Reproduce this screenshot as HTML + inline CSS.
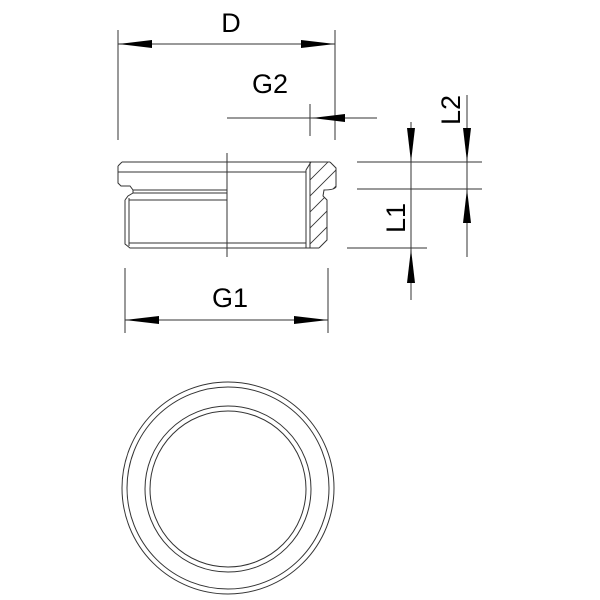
<!DOCTYPE html>
<html><head><style>html,body{margin:0;padding:0;background:#fff}svg{display:block}</style></head>
<body>
<svg width="600" height="600" viewBox="0 0 600 600" xmlns="http://www.w3.org/2000/svg">
<defs>
<clipPath id="hc"><path d="M310,162 L330,162 L336,168 L336,187 Q334,190 324,190 L323,196 L327,200 L327,240 L319,248 L310,248 Z"/></clipPath>
</defs>
<g fill="none" stroke="#333" stroke-width="1">
<path d="M122,162 L330,162"/>
<path d="M118,166 L122,162"/>
<path d="M118,166 L118,183 L121,186 L130,186 L133,190 L133,193 L128,196 L125,200"/>
<path d="M133,190 L227,190"/>
<path d="M133,193 L227,193"/>
<path d="M118,172 L227,172"/>
<path d="M125,200 L125,244 L130,248 L319,248"/>
<path d="M129,198 L129,246"/>
<path d="M129,200 L227,200"/>
<path d="M129,243 L227,243"/>
<path d="M227,172 L306,172"/>
<path d="M227,243 L306,243"/>
<path d="M227,153 L227,257"/>
<path d="M306,170 L311,162"/>
<path d="M306,170 L306,248"/>
<path d="M310,162 L310,248"/>
<path d="M330,162 L336,168 L336,187 Q334,190 324,190 L323,196 L327,200 L327,240 L319,248"/>
<g clip-path="url(#hc)" stroke-width="0.8">
<path d="M300,190 L350,140 M300,206 L350,156 M300,222 L350,172 M300,238 L350,188 M300,254 L350,204 M300,270 L350,220 M300,286 L350,236"/>
</g>
<circle cx="228" cy="488" r="106"/>
<circle cx="228" cy="488" r="101"/>
<circle cx="228" cy="489" r="83"/>
<circle cx="228" cy="489" r="78"/>
<path d="M118,30 L118,140 M335,30 L335,140 M118,44 L335,44"/>
<path d="M227,118 L377,118 M310,104 L310,136"/>
<path d="M125,268 L125,333 M328,268 L328,333 M125,320 L328,320"/>
<path d="M357,162 L482,162 M357,189 L482,189 M347,248 L427,248"/>
<path d="M411,122 L411,300 M467,95 L467,257"/>
</g>
<g fill="#000">
<path d="M118,44 L152,40 L152,48 Z"/>
<path d="M335,44 L301,40 L301,48 Z"/>
<path d="M312,118 L345,114 L345,122 Z"/>
<path d="M125,320 L159,316 L159,324 Z"/>
<path d="M328,320 L294,316 L294,324 Z"/>
<path d="M411,162 L407,128 L415,128 Z"/>
<path d="M411,249 L407,283 L415,283 Z"/>
<path d="M467,162 L463,128 L471,128 Z"/>
<path d="M467,189 L463,223 L471,223 Z"/>
</g>
<g font-family="Liberation Sans, sans-serif" font-size="27" fill="#000" text-anchor="middle">
<text x="231" y="32">D</text>
<text x="270" y="93">G2</text>
<text x="230" y="307">G1</text>
<text transform="translate(405,218) rotate(-90)">L1</text>
<text transform="translate(460,110) rotate(-90)">L2</text>
</g>
</svg>
</body></html>
